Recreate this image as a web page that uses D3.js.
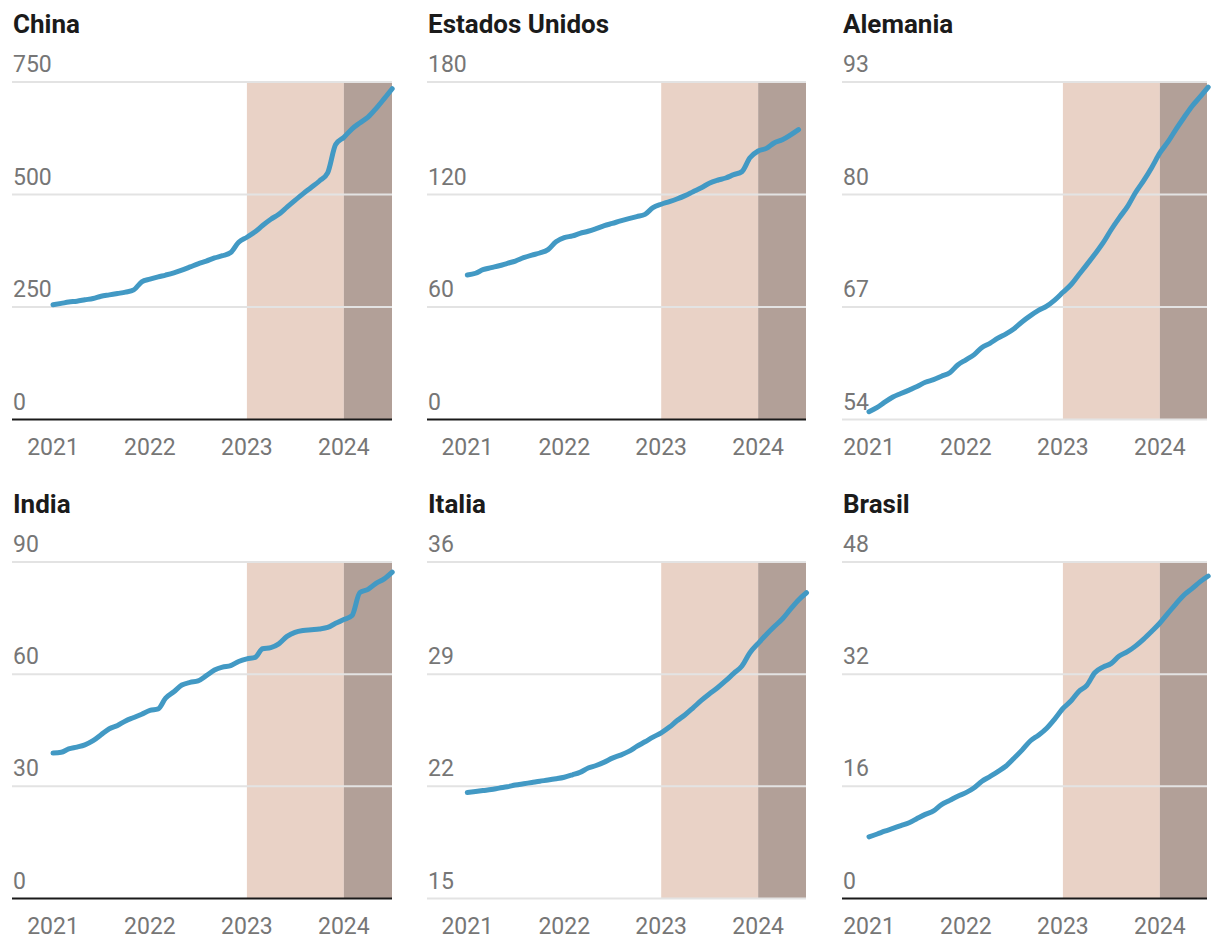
<!DOCTYPE html>
<html><head><meta charset="utf-8">
<script src="https://cdn.jsdelivr.net/npm/d3@7"></script>
<style>body{margin:0;background:#fff;} svg{display:block;font-family:Roboto,"Noto Sans",sans-serif;}</style>
</head><body><svg id="c" width="1220" height="950"></svg>
<script>
const months = ["2021-01","2021-02","2021-03","2021-04","2021-05","2021-06","2021-07","2021-08","2021-09","2021-10","2021-11","2021-12",
"2022-01","2022-02","2022-03","2022-04","2022-05","2022-06","2022-07","2022-08","2022-09","2022-10","2022-11","2022-12",
"2023-01","2023-02","2023-03","2023-04","2023-05","2023-06","2023-07","2023-08","2023-09","2023-10","2023-11","2023-12",
"2024-01","2024-02","2024-03","2024-04","2024-05","2024-06","2024-07"];
const yearTicks = ["2021","2022","2023","2024"];
const countries = ["China","Estados Unidos","Alemania","India","Italia","Brasil"];

const china = [255,258,261,263,266,269,274,277,280,283,288,306,312,317,321,326,332,339,346,352,359,364,371,394,405,417,431,445,456,472,487,502,516,530,548,611,627,646,659,672,691,713,735];
const estadosUnidos = [77.1,78.0,79.9,81.0,82.0,83.3,84.5,86.3,87.7,88.8,90.6,94.8,97.0,97.9,99.3,100.4,101.8,103.4,104.6,105.9,107.1,108.2,109.4,113.0,114.8,116.2,117.6,119.4,121.5,123.6,126.0,127.6,128.8,130.6,132.2,139.6,143.2,144.6,147.5,149.2,151.7,154.6];
const alemania = [54.9,55.4,56.0,56.6,57.0,57.4,57.8,58.3,58.6,59.0,59.4,60.3,60.9,61.5,62.3,62.8,63.4,63.9,64.5,65.3,66.0,66.6,67.1,67.8,68.7,69.6,70.7,71.9,73.1,74.4,75.9,77.3,78.6,80.2,81.6,83.1,84.8,86.1,87.5,88.9,90.2,91.3,92.4];
const india = [38.9,39.1,40.0,40.5,41.1,42.2,43.8,45.4,46.3,47.5,48.4,49.3,50.3,50.7,53.6,55.3,57.1,57.8,58.2,59.6,61.1,61.9,62.3,63.4,64.1,64.5,66.8,67.1,68.1,70.1,71.2,71.7,71.9,72.1,72.5,73.6,74.6,75.7,81.8,82.7,84.3,85.5,87.3];
const italia = [21.62,21.68,21.74,21.80,21.89,21.97,22.08,22.16,22.24,22.32,22.39,22.47,22.57,22.72,22.87,23.14,23.30,23.51,23.76,23.95,24.18,24.49,24.78,25.07,25.34,25.70,26.09,26.47,26.90,27.36,27.76,28.15,28.59,29.05,29.51,30.34,30.92,31.48,31.96,32.44,33.04,33.63,34.08];
const brasil = [8.8,9.2,9.6,10.0,10.4,10.8,11.4,12.0,12.5,13.4,14.0,14.6,15.1,15.8,16.7,17.4,18.1,18.9,20.0,21.2,22.5,23.3,24.3,25.6,27.1,28.2,29.5,30.4,32.2,33.0,33.5,34.6,35.2,36.0,37.0,38.1,39.3,40.7,42.0,43.3,44.2,45.2,46.0];

const yTicksChina = [0,250,500,750];
const yTicksEstadosUnidos = [0,60,120,180];
const yTicksAlemania = [54,67,80,93];
const yTicksIndia = [0,30,60,90];
const yTicksItalia = [15,22,29,36];
const yTicksBrasil = [0,16,32,48];

const shadeLight = ["2023-01","2024-01"];
const shadeDark = ["2024-01","2024-07"];

const seriesList = [china, estadosUnidos, alemania, india, italia, brasil];
const tickList = [yTicksChina, yTicksEstadosUnidos, yTicksAlemania, yTicksIndia, yTicksItalia, yTicksBrasil];

// layout
const colLeft = [12, 427, 842];
const colRight = [392, 806, 1207];
const colXStart = [53, 467.3, 869];
const xSpan = 339.2;
const rowTop = [82, 562];
const rowBottom = [419.5, 898.5];

const parse = d3.timeParse("%Y-%m");
const svg = d3.select("#c");

const COL_LINE = "#4299c4", COL_LIGHT = "#e9d2c6", COL_DARK = "#b2a098",
      COL_GRID = "#e3e3e3", COL_LABEL = "#767676", COL_TITLE = "#1b1b1b";

countries.forEach((name, i) => {
  const col = i % 3, row = Math.floor(i / 3);
  const values = seriesList[i];
  const ticks = tickList[i];
  const g = svg.append("g");
  const x = d3.scaleTime().domain([parse(months[0]), parse(months[months.length-1])])
              .range([colXStart[col], colXStart[col] + xSpan]);
  const y = d3.scaleLinear().domain([ticks[0], ticks[ticks.length-1]])
              .range([rowBottom[row], rowTop[row]]);
  const L = colLeft[col], R = colRight[col];

  // shading
  g.append("rect").attr("x", x(parse(shadeLight[0]))).attr("y", y.range()[1])
    .attr("width", x(parse(shadeLight[1])) - x(parse(shadeLight[0])))
    .attr("height", y.range()[0] - y.range()[1]).attr("fill", COL_LIGHT);
  g.append("rect").attr("x", x(parse(shadeDark[0]))).attr("y", y.range()[1])
    .attr("width", R - x(parse(shadeDark[0])))
    .attr("height", y.range()[0] - y.range()[1]).attr("fill", COL_DARK);

  // gridlines
  ticks.forEach(t => {
    const isZero = t === 0;
    g.append("line").attr("x1", L).attr("x2", R)
      .attr("y1", y(t)).attr("y2", y(t))
      .attr("stroke", isZero ? "#1a1a1a" : COL_GRID)
      .attr("stroke-width", 2);
    g.append("text").attr("x", L + 1).attr("y", y(t) - 10)
      .attr("fill", COL_LABEL).attr("font-size", 23).text(t);
  });

  // x labels
  yearTicks.forEach(yr => {
    g.append("text").attr("x", x(parse(yr + "-01"))).attr("y", rowBottom[row] + 35)
      .attr("text-anchor", "middle").attr("fill", COL_LABEL).attr("font-size", 23).text(yr);
  });

  // title
  g.append("text").attr("x", L + 1).attr("y", rowTop[row] - 49)
    .attr("fill", COL_TITLE).attr("font-size", 26).attr("font-weight", 700).text(name);

  // line
  const line = d3.line().x((d, j) => x(parse(months[j]))).y(d => y(d)).curve(d3.curveMonotoneX);
  g.append("path").datum(values).attr("d", line).attr("fill", "none")
    .attr("stroke", COL_LINE).attr("stroke-width", 5)
    .attr("stroke-linecap", "round").attr("stroke-linejoin", "round");
});
</script></body></html>
